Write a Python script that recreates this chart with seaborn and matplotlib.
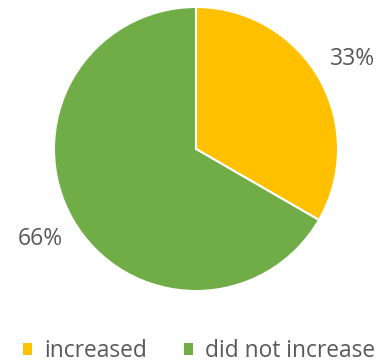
import matplotlib
matplotlib.use("Agg")
import matplotlib.pyplot as plt
from matplotlib.patches import Patch
import seaborn as sns

# Share of respondents
categories = ["increased", "did not increase"]
values = [33, 66]
value_labels = ["33%", "66%"]
colors = ["#FFC000", "#70AD47"]

sns.set_theme(style="white")
plt.rcParams["font.family"] = ["Open Sans", "DejaVu Sans"]

W, H = 382, 364
fig = plt.figure(figsize=(W / 100, H / 100), dpi=100)
fig.patch.set_facecolor("white")

cx, cy, r = 196, 149, 142
ax = fig.add_axes([(cx - r) / W, (H - cy - r) / H, 2 * r / W, 2 * r / H])

wedges, texts = ax.pie(
    values,
    labels=value_labels,
    colors=colors,
    startangle=90,
    counterclock=False,
    labeldistance=1.27,
    wedgeprops=dict(edgecolor="white", linewidth=1.5),
    textprops=dict(color="#595959", fontsize=16.5),
)
for t in texts:
    t.set_ha("center")
    t.set_va("center")
ax.set_xlim(-1, 1)
ax.set_ylim(-1, 1)

handles = [Patch(facecolor=c, edgecolor="none", label=lab) for c, lab in zip(colors, categories)]
fig.legend(
    handles=handles,
    loc="center",
    bbox_to_anchor=(199 / W, (H - 351) / H),
    ncol=2,
    frameon=False,
    fontsize=16.4,
    handlelength=0.4,
    handleheight=0.4,
    handletextpad=0.55,
    columnspacing=1.6,
    labelcolor="#595959",
)

fig.savefig("out.png", dpi=100, facecolor="white")
